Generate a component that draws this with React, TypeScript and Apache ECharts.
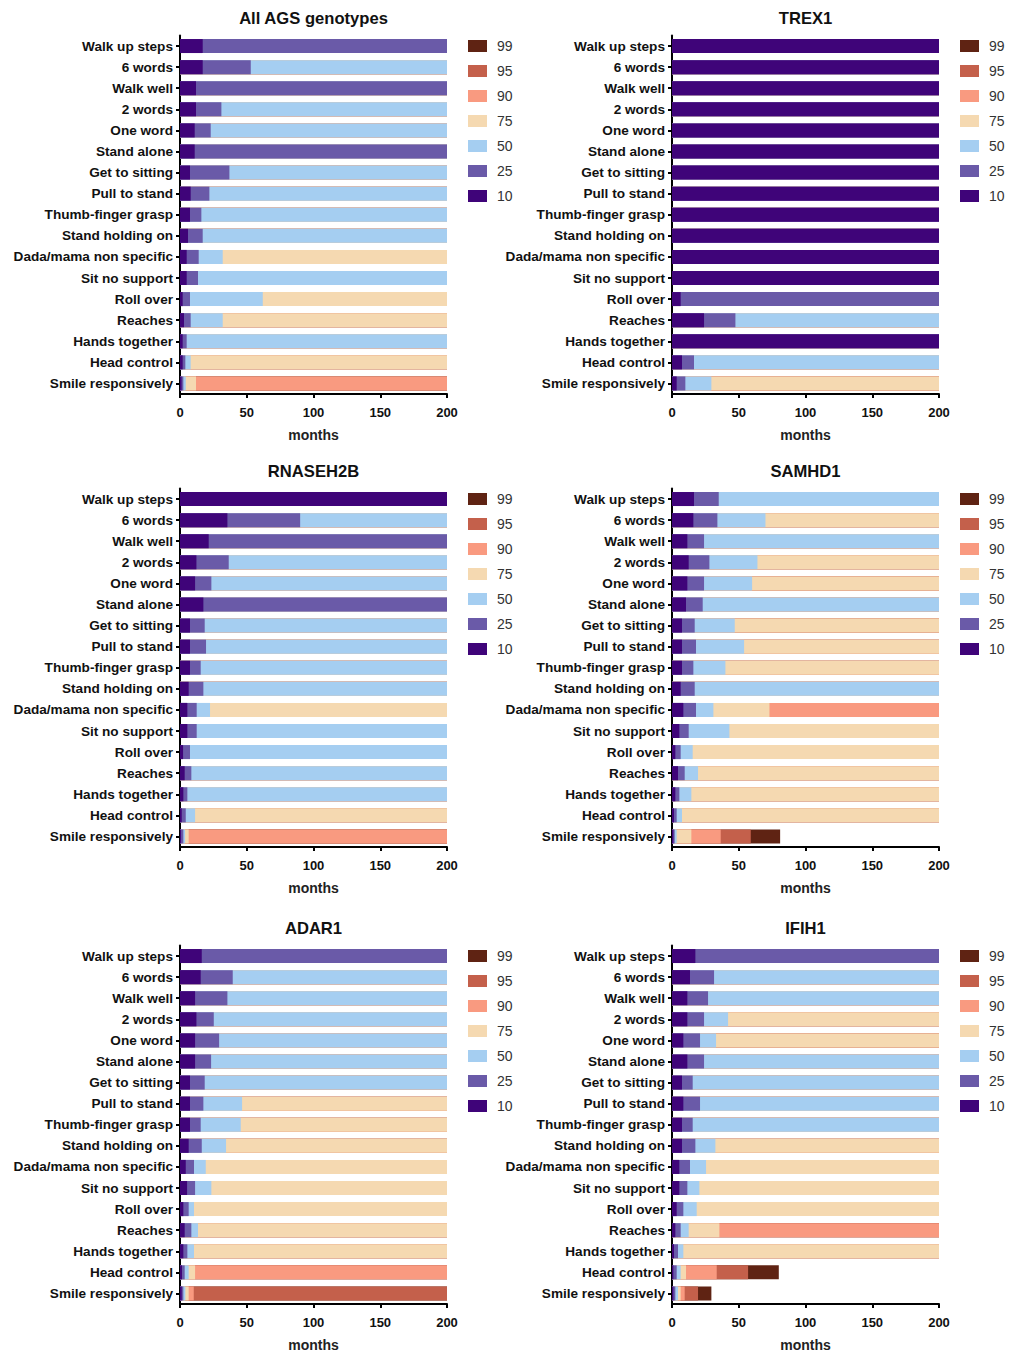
import React, { useEffect, useRef } from "react";
import * as echarts from "echarts";

const N = null;

const categories = [
  "Walk up steps", "6 words", "Walk well", "2 words", "One word", "Stand alone",
  "Get to sitting", "Pull to stand", "Thumb-finger grasp", "Stand holding on",
  "Dada/mama non specific", "Sit no support", "Roll over", "Reaches",
  "Hands together", "Head control", "Smile responsively",
];

// percentile labels (legend order: top to bottom)
const percentiles = ["99", "95", "90", "75", "50", "25", "10"];
const colors: Record<string, string> = {
  "99": "#5f2313", "95": "#c4604b", "90": "#f99a80", "75": "#f5d9b1",
  "50": "#a5cef1", "25": "#6a5aa8", "10": "#3f0479",
};
// column index of each percentile in the row arrays [p10,p25,p50,p75,p90,p95,p99]
const pIndex: Record<string, number> = { "10": 0, "25": 1, "50": 2, "75": 3, "90": 4, "95": 5, "99": 6 };

// each row: age (months) at p10, p25, p50, p75, p90, p95, p99; null/missing = not reached by 200
const allAgs = [
  [17, N], [17, 53, N], [12, N], [12, 31, N], [11, 23, N], [11, N], [7.5, 37, N],
  [8, 22, N], [7.5, 16, N], [6, 17, N], [5, 14, 32, N], [5, 13.5, N], [2, 7.5, 62, N],
  [3, 8, 32, N], [2, 5, N], [2, 4, 8, N], [1.2, 2.5, 4.3, 12, N],
];
const trex1 = [
  [N], [N], [N], [N], [N], [N], [N], [N], [N], [N], [N], [N],
  [6.5, N], [24, 47.5, N], [N], [7.5, 16.5, N], [3.5, 10, 29.5, N],
];
const rnaseh2b = [
  [N], [35.5, 90, N], [21.5, N], [12.3, 36.5, N], [11.3, 23.5, N], [17.5, N],
  [7.5, 18.5, N], [7.5, 19.5, N], [7.5, 15.5, N], [6.5, 17.5, N], [5.5, 12.5, 22.5, N],
  [5.5, 12.5, N], [2.3, 7.5, N], [3.5, 8.5, N], [2.5, 5.5, N], [1.3, 4.3, 11.3, N],
  [0.8, 2.5, 3.8, 6.5, N],
];
const samhd1 = [
  [16.5, 35, N], [16, 34, 70, N], [11.5, 24, N], [12.5, 28, 64, N], [11.5, 24, 60, N],
  [10.5, 23, N], [7.5, 17, 47, N], [7.5, 18, 54, N], [7.5, 16, 40, N], [6.5, 17, N],
  [8.5, 18, 31, 73, N], [5.5, 12.5, 43, N], [2.5, 6.5, 15.5, N], [4.5, 9.5, 19.5, N],
  [2.5, 5.5, 14.5, N], [1.5, 3.5, 7.5, N], [1, 2, 3.5, 14.5, 36.5, 59, 81],
];
const adar1 = [
  [16.3, N], [15.5, 39.5, N], [11.3, 35.5, N], [12.3, 25.3, N], [11.3, 29.3, N],
  [11.3, 23.3, N], [7.5, 18.5, N], [7.5, 17.5, 46.5, N], [7.5, 15.5, 45.5, N],
  [6.5, 16.3, 34.5, N], [4.3, 10.5, 19.3, N], [5.3, 11.3, 23.5, N], [2.5, 6.5, 10.5, N],
  [3.5, 8.5, 13.5, N], [2.5, 5.5, 10.5, N], [1.5, 3.5, 6.5, 11.3, N],
  [1.3, 2.5, 4, 6.5, 10.3, N],
];
const ifih1 = [
  [17.5, N], [13.5, 31.5, N], [11.5, 27, N], [11.5, 24, 42, N], [8.5, 21, 33, N],
  [11.5, 24, N], [7.5, 15.5, N], [8.5, 21, N], [7.5, 15.5, N], [7.5, 17.5, 32.5, N],
  [5.5, 13.5, 25.5, N], [5.5, 11.5, 20.5, N], [3.5, 8.5, 18.5, N], [2.5, 6.5, 12.5, 35.5, N],
  [1.5, 4.5, 8.5, N], [1, 3.5, 6.5, 10.5, 33.5, 57, 80], [1, 2.5, 4.5, 6.5, 9.5, 19.5, 29.5],
];

const panelTitles = ["All AGS genotypes", "TREX1", "RNASEH2B", "SAMHD1", "ADAR1", "IFIH1"];
const panelData = [allAgs, trex1, rnaseh2b, samhd1, adar1, ifih1];

const xTicks = { min: 0, max: 200, interval: 50 };

const FONT = "'Liberation Sans', Arial, Helvetica, sans-serif";

export default function App() {
  const ref = useRef<HTMLDivElement>(null);
  useEffect(() => {
    if (!ref.current) return;
    const chart = echarts.init(ref.current, undefined, { renderer: "svg" });

    const colLeft = [180, 672];
    const rowTop = [35.5, 488.5, 945.5];
    const rowH = [358.5, 358.5, 359];
    const plotW = 267;

    const grids: any[] = [];
    const xAxes: any[] = [];
    const yAxes: any[] = [];
    const series: any[] = [];
    const legends: any[] = [];
    const graphics: any[] = [];

    panelData.forEach((rows, i) => {
      const col = i % 2;
      const row = Math.floor(i / 2);
      const left = colLeft[col];
      const top = rowTop[row];
      grids.push({ left, top, width: plotW, height: rowH[row], containLabel: false });
      xAxes.push({
        gridIndex: i,
        type: "value",
        min: xTicks.min,
        max: xTicks.max,
        interval: xTicks.interval,
        axisLine: { show: true, lineStyle: { color: "#000", width: 2 } },
        axisTick: { show: true, length: 4, lineStyle: { color: "#000", width: 2 } },
        axisLabel: { color: "#111", fontSize: 13, fontWeight: "bold", fontFamily: FONT, margin: 12 },
        splitLine: { show: false },
        name: "months",
        nameLocation: "middle",
        nameGap: 34,
        nameTextStyle: { color: "#222", fontSize: 14, fontWeight: "bold", fontFamily: FONT },
      });
      yAxes.push({
        gridIndex: i,
        type: "category",
        inverse: true,
        data: categories,
        axisLine: { show: true, lineStyle: { color: "#000", width: 2 } },
        axisTick: { show: true, length: 4, alignWithLabel: true, lineStyle: { color: "#000", width: 2 } },
        axisLabel: { color: "#111", fontSize: 13.6, fontWeight: "bold", fontFamily: FONT, margin: 7, interval: 0 },
      });
      percentiles.forEach((p) => {
        const k = pIndex[p];
        series.push({
          type: "bar",
          name: p,
          xAxisIndex: i,
          yAxisIndex: i,
          barWidth: 14,
          barGap: "-100%",
          itemStyle: { color: colors[p] },
          data: rows.map((r) => {
            const v = r[k];
            return v === null || v === undefined ? xTicks.max : v;
          }),
        });
      });
      legends.push({
        data: percentiles,
        orient: "vertical",
        left: left + plotW + 16,
        top: top - 1.5,
        itemWidth: 19,
        itemHeight: 12,
        itemGap: 11,
        icon: "rect",
        selectedMode: false,
        textStyle: { color: "#333", fontSize: 14, fontFamily: FONT, padding: [0, 0, 0, 5] },
      });
      graphics.push({
        type: "text",
        x: left + plotW / 2,
        y: top - 17,
        style: {
          text: panelTitles[i],
          align: "center",
          verticalAlign: "middle",
          fontSize: 16.6,
          fontWeight: "bold",
          fontFamily: FONT,
          fill: "#111",
        },
      });
    });

    chart.setOption({
      animation: false,
      backgroundColor: "#fff",
      grid: grids,
      xAxis: xAxes,
      yAxis: yAxes,
      legend: legends,
      series,
      graphic: graphics,
    });
    return () => chart.dispose();
  }, []);

  return (
    <div
      ref={ref}
      style={{ position: "absolute", left: 0, top: 0, width: 1015, height: 1353 }}
    />
  );
}
